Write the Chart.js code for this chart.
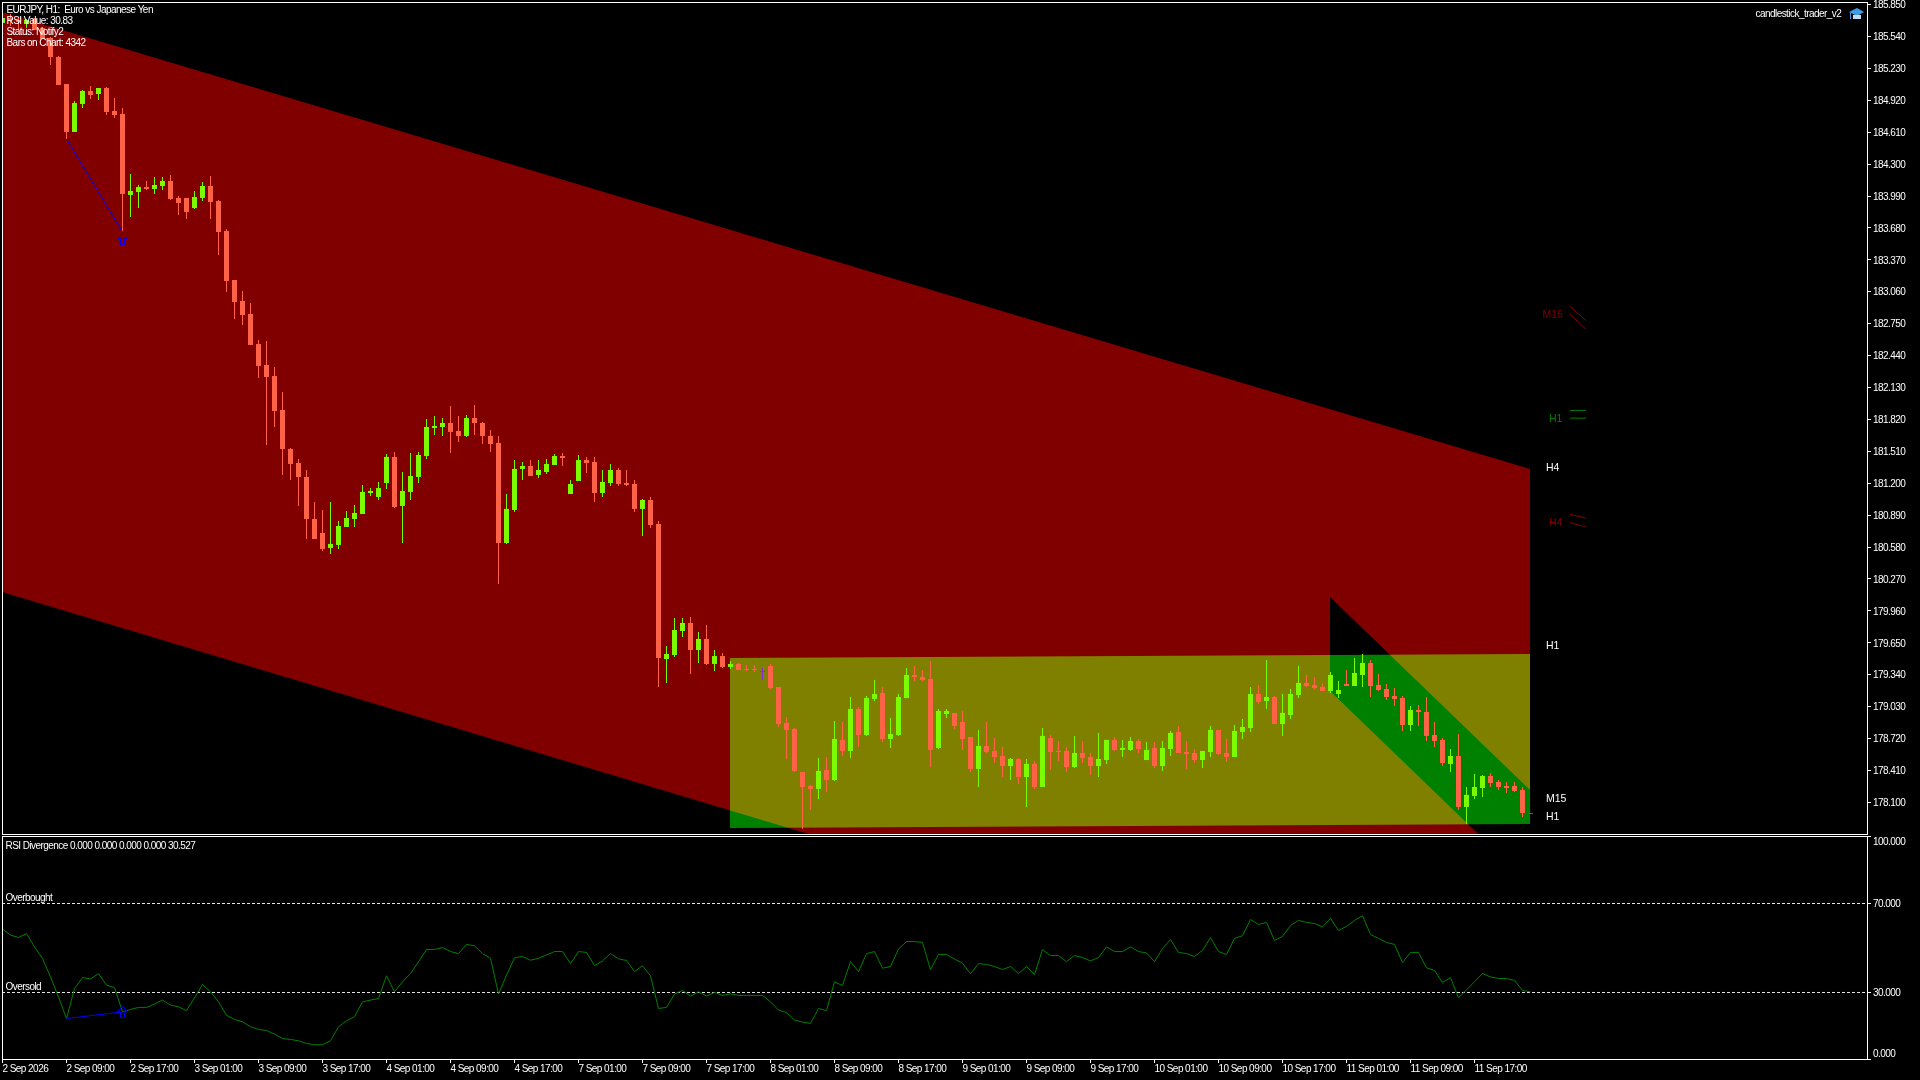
<!DOCTYPE html>
<html>
<head>
<meta charset="utf-8">
<title>EURJPY H1</title>
<script src="https://cdn.jsdelivr.net/npm/chart.js@4"></script>
<style>
    html, body { margin: 0; padding: 0; background: #000; overflow: hidden; }
    canvas { position: absolute; left: 0; display: block; }
    #priceChart { top: 0; }
    #rsiChart { top: 836px; }
</style>
</head>
<body>
<canvas id="priceChart" width="1920" height="836"></canvas>
<canvas id="rsiChart" width="1920" height="244"></canvas>
<script>
const opens = [
    185.671,185.719,185.700,185.661,185.709,185.622,185.525,185.340,185.078,184.612,
    184.884,185.010,184.981,185.039,184.816,184.787,184.000,184.029,184.077,184.058,
    184.087,184.136,183.971,183.971,183.873,183.971,184.087,183.941,183.650,183.174,
    182.970,182.844,182.552,182.348,182.241,181.911,181.532,181.396,181.260,180.852,
    180.716,180.571,180.600,180.775,180.852,180.901,181.105,181.066,181.202,181.455,
    180.979,181.115,181.260,181.464,181.736,181.746,181.785,181.707,181.659,181.833,
    181.785,181.659,181.591,180.619,180.940,181.338,181.367,181.280,181.309,181.377,
    181.464,181.095,181.221,181.425,181.406,181.105,181.202,181.328,181.202,181.192,
    180.950,181.037,180.804,179.492,179.531,179.764,179.842,179.580,179.687,179.444,
    179.521,179.415,179.444,179.395,179.395,179.376,179.424,179.220,178.871,178.813,
    178.395,178.259,178.230,178.414,178.317,178.706,178.599,179.007,178.754,179.104,
    179.162,178.715,178.754,179.113,179.337,179.318,179.298,178.628,178.958,178.968,
    178.881,178.735,178.424,178.647,178.599,178.550,178.453,178.521,178.346,178.473,
    178.249,178.725,178.599,178.599,178.443,178.579,178.540,178.453,178.511,178.706,
    178.609,178.609,178.696,178.511,178.628,178.453,178.618,178.783,178.589,178.579,
    178.511,178.589,178.803,178.579,178.540,178.783,178.822,179.152,179.084,179.123,
    178.861,178.948,179.143,179.259,179.240,179.220,179.181,179.152,179.250,179.230,
    179.337,179.453,179.240,179.201,179.133,179.113,178.851,178.997,178.978,178.754,
    178.706,178.473,178.550,178.055,178.162,178.239,178.356,178.298,178.259,178.259,178.220,177.996
];
const closes = [
    185.719,185.700,185.680,185.700,185.603,185.515,185.340,185.068,184.612,184.893,
    185.010,184.971,185.039,184.806,184.777,184.010,184.039,184.077,184.058,184.097,
    184.136,183.961,183.922,183.835,183.980,184.087,183.932,183.640,183.164,182.960,
    182.834,182.543,182.339,182.232,181.901,181.532,181.387,181.260,180.852,180.658,
    180.561,180.610,180.784,180.862,180.911,181.115,181.124,181.153,181.455,180.969,
    181.124,181.270,181.474,181.746,181.756,181.785,181.698,181.659,181.833,181.785,
    181.659,181.581,180.619,180.950,181.338,181.367,181.270,181.328,181.387,181.464,
    181.445,181.192,181.425,181.396,181.105,181.212,181.328,181.192,181.183,180.950,
    181.037,180.794,179.502,179.541,179.774,179.842,179.580,179.687,179.444,179.521,
    179.415,179.444,179.386,179.386,179.386,179.366,179.211,178.861,178.803,178.404,
    178.249,178.230,178.404,178.317,178.715,178.599,179.007,178.754,179.113,179.152,
    178.715,178.764,179.123,179.337,179.318,179.288,178.609,178.987,178.987,178.842,
    178.715,178.424,178.647,178.589,178.540,178.453,178.521,178.346,178.473,178.249,
    178.745,178.589,178.589,178.443,178.579,178.531,178.453,178.521,178.706,178.609,
    178.628,178.696,178.618,178.609,178.453,178.628,178.774,178.579,178.570,178.511,
    178.599,178.803,178.570,178.540,178.793,178.832,179.152,179.075,179.123,178.861,
    178.968,179.152,179.259,179.230,179.211,179.181,179.337,179.191,179.230,179.356,
    179.453,179.230,179.191,179.123,179.104,178.851,178.997,178.978,178.745,178.696,
    178.482,178.550,178.055,178.172,178.249,178.356,178.288,178.249,178.239,178.210,177.996,177.987
];
const highs = [
    185.739,185.758,185.729,185.709,185.719,185.632,185.535,185.350,185.078,184.913,
    185.020,185.059,185.039,185.049,184.942,184.845,184.204,184.097,184.136,184.175,
    184.175,184.194,183.990,183.971,184.039,184.126,184.184,183.951,183.670,183.174,
    183.067,182.951,182.591,182.581,182.329,182.086,181.542,181.435,181.328,181.018,
    180.940,181.018,180.833,180.930,180.988,181.183,181.153,181.212,181.484,181.503,
    181.309,181.493,181.503,181.824,181.853,181.833,181.950,181.853,181.863,181.960,
    181.795,181.717,181.659,181.095,181.425,181.406,181.425,181.425,181.435,181.484,
    181.493,181.231,181.474,181.455,181.455,181.328,181.387,181.348,181.328,181.231,
    181.047,181.066,180.833,179.619,179.891,179.891,179.900,179.755,179.823,179.580,
    179.551,179.473,179.453,179.434,179.434,179.405,179.444,179.220,178.929,178.822,
    178.395,178.268,178.531,178.540,178.890,178.881,179.123,179.026,179.133,179.288,
    179.220,178.919,179.152,179.405,179.424,179.386,179.473,179.007,179.007,178.968,
    178.987,178.735,178.803,178.881,178.725,178.638,178.531,178.531,178.521,178.502,
    178.822,178.754,178.696,178.638,178.745,178.696,178.579,178.774,178.706,178.735,
    178.706,178.735,178.715,178.686,178.686,178.696,178.793,178.842,178.696,178.618,
    178.599,178.842,178.803,178.715,178.851,178.910,179.220,179.240,179.483,179.133,
    179.152,179.201,179.424,179.337,179.318,179.259,179.366,179.279,179.386,179.502,
    179.541,179.483,179.347,179.250,179.211,179.133,179.036,179.046,179.123,178.881,
    178.725,178.618,178.764,178.249,178.375,178.366,178.385,178.317,178.298,178.298,178.249,177.996
];
const lows = [
    185.651,185.641,185.603,185.622,185.603,185.515,185.263,185.068,184.544,184.612,
    184.845,184.932,184.923,184.777,184.748,183.640,183.786,183.873,184.048,184.010,
    184.048,183.951,183.805,183.767,183.864,183.941,183.767,183.417,183.057,182.795,
    182.737,182.543,182.222,181.571,181.746,181.280,181.231,180.979,180.658,180.658,
    180.541,180.512,180.561,180.775,180.775,180.901,181.076,181.037,181.144,180.959,
    180.619,181.037,181.202,181.435,181.668,181.659,181.493,181.600,181.649,181.668,
    181.581,181.503,180.221,180.610,180.920,181.231,181.270,181.251,181.290,181.377,
    181.367,181.095,181.221,181.299,181.018,181.066,181.173,181.173,181.173,180.920,
    180.687,180.765,179.220,179.259,179.512,179.706,179.347,179.453,179.434,179.376,
    179.405,179.395,179.386,179.376,179.366,179.288,179.201,178.832,178.521,178.395,
    177.841,178.026,178.132,178.200,178.307,178.550,178.531,178.638,178.745,179.084,
    178.686,178.628,178.745,179.113,179.279,179.279,178.443,178.618,178.919,178.813,
    178.609,178.395,178.249,178.579,178.482,178.346,178.317,178.278,178.055,178.230,
    178.249,178.414,178.502,178.395,178.433,178.482,178.366,178.346,178.473,178.599,
    178.540,178.599,178.579,178.511,178.433,178.404,178.550,178.579,178.424,178.482,
    178.433,178.540,178.560,178.492,178.540,178.715,178.783,179.055,179.007,178.861,
    178.745,178.910,179.113,179.220,179.201,179.181,179.162,179.113,179.230,179.230,
    179.220,179.123,179.181,179.094,179.036,178.793,178.793,178.842,178.696,178.638,
    178.453,178.395,178.026,177.890,178.132,178.152,178.249,178.220,178.191,178.200,177.957,177.987
];
const rsiValues = [
    58.5,55.8,54.7,56.5,50.5,45.3,37,28,18.3,31.8,
    36.7,36.1,38.5,33.3,32.2,21.3,22.4,23.3,23.3,24.8,
    26.6,24.3,23.6,21.8,27.6,33.6,30.3,25.8,19.8,17.9,
    16.8,14.6,13.4,12.9,11.3,9.3,8.9,8.3,7.1,6.5,
    6.5,8.3,14.6,17.3,19.1,25.8,26.6,27.3,37.5,30.3,
    34.8,38.5,43.8,49.3,49.3,50.2,48.4,47.5,51.6,51,
    47.5,45.4,29.3,37.8,45.6,46.2,44.5,45.4,46.9,48.4,
    48.4,43,48.4,48,42.1,44.2,47.5,45.1,44.4,39.4,
    42,37.5,22.8,23.3,29.3,30.9,28.4,30.3,28.4,30,
    28.7,29.4,28.7,28.7,28.7,28.7,25.8,22.1,21,17.6,
    16.7,16.1,22.8,21.9,34.8,33.1,43.9,39.4,47.5,48.4,
    40.9,41.7,49.5,52.9,52.9,52.5,40.2,47.1,47.1,45,
    43.2,38.4,43,42.6,41.7,40.3,41.7,38.5,41.7,38.1,
    49.3,46.6,46.6,43.9,46.6,45.7,44.2,45.7,50.5,48.4,
    48.4,50.5,48.4,47.8,43.9,49.8,53.8,48,47.5,46.2,
    48.9,54.7,48.4,47.1,54.3,55.5,62.8,60.6,61.5,53.4,
    55.2,60.1,62.4,61.5,61,59.5,63.3,57.9,59.7,62.4,
    64.5,56.1,54.3,52.5,51.6,43.5,48,48,41.1,39.9,
    34.5,36.7,27.6,31.2,34.8,38.5,37,36.3,36.3,35.4,30.9,30.3
];

const dojiBars = [95, 191];

const priceTicks = [
    185.85,185.54,185.23,184.92,184.61,184.30,183.99,183.68,183.37,
    183.06,182.75,182.44,182.13,181.82,181.51,181.20,180.89,180.58,
    180.27,179.96,179.65,179.34,179.03,178.72,178.41,178.10
];
const rsiTicks = [100, 70, 30, 0];
const rsiTickLabels = ['100.000', '70.000', '30.000', '0.000'];
const rsiLevels = [70, 30];
const timeTickBars = [0,8,16,24,32,40,48,56,64,72,80,88,96,104,112,120,128,136,144,152,160,168,176,184];
const timeTickLabels = [
    '2 Sep 2026','2 Sep 09:00','2 Sep 17:00','3 Sep 01:00','3 Sep 09:00','3 Sep 17:00',
    '4 Sep 01:00','4 Sep 09:00','4 Sep 17:00','7 Sep 01:00','7 Sep 09:00','7 Sep 17:00',
    '8 Sep 01:00','8 Sep 09:00','8 Sep 17:00','9 Sep 01:00','9 Sep 09:00','9 Sep 17:00',
    '10 Sep 01:00','10 Sep 09:00','10 Sep 17:00','11 Sep 01:00','11 Sep 09:00','11 Sep 17:00'
];

// Channels and the range box, corner by corner: bar number and price
const bigChannelBars = [-1, 190.94, 190.94, -1];
const bigChannelPrices = [185.799, 181.338, 175.69, 180.165];
const rangeBoxBars = [90.94, 190.94, 190.94, 90.94];
const rangeBoxPrices = [179.502, 179.541, 177.890, 177.851];
const smallChannelBars = [165.94, 190.94, 190.94, 165.94];
const smallChannelPrices = [180.095, 178.220, 177.307, 179.182];

// Divergence marks
const divergenceBars = [8, 15];
const divergencePrices = [184.544, 183.640];
const divergenceRsi = [18.3, 21.3];
const arrowBar = 15;
const arrowPrice = 183.572;
const arrowRsi = 21.2;

// Little trend dashes to the right of the chart
const dashBars = [195.94, 197.94];
const m15Dashes = [[182.918, 182.779], [182.841, 182.695]];
const h1Dashes = [[181.907, 181.907], [181.832, 181.832]];
const h4Dashes = [[180.898, 180.860], [180.818, 180.774]];

const BULL = '#7cfc00';
const BEAR = '#ff6347';
const DOJI = '#8a2be2';
const MAROON = '#800000';
const GREEN = '#008000';
const BLUE = '#0000ff';

const REGULAR = '"Liberation Sans", sans-serif';
const TIGHT = '-0.55px'; // squeezes the text to the width of the terminal font

const xMin = -0.0625;
const xMax = 233.0625;

const candleColors = opens.map((o, i) => {
    if (dojiBars.includes(i)) return DOJI;
    return closes[i] >= o ? BULL : BEAR;
});

// hollow up arrow used on both panels
function makeArrow() {
    const c = document.createElement('canvas');
    c.width = 11;
    c.height = 12;
    const g = c.getContext('2d');
    g.strokeStyle = BLUE;
    g.lineWidth = 1;
    g.beginPath();
    g.moveTo(5.5, 0.5);
    g.lineTo(10.5, 5.5);
    g.lineTo(7.5, 5.5);
    g.lineTo(7.5, 11.5);
    g.lineTo(3.5, 11.5);
    g.lineTo(3.5, 5.5);
    g.lineTo(0.5, 5.5);
    g.closePath();
    g.stroke();
    return c;
}
const arrowSprite = makeArrow();

function drawText(ctx, text, x, y, color, font, spacing) {
    ctx.fillStyle = color;
    ctx.font = font;
    ctx.letterSpacing = spacing;
    ctx.textAlign = 'left';
    ctx.textBaseline = 'middle';
    ctx.fillText(text, x, y);
}

function fillZone(chart, bars, prices, color) {
    const ctx = chart.ctx;
    const xs = chart.scales.x;
    const ys = chart.scales.y;
    ctx.beginPath();
    bars.forEach((b, i) => {
        const px = xs.getPixelForValue(b);
        const py = ys.getPixelForValue(prices[i]);
        if (i === 0) ctx.moveTo(px, py);
        else ctx.lineTo(px, py);
    });
    ctx.closePath();
    ctx.fillStyle = color;
    ctx.fill();
}

const blackBackground = {
    id: 'blackBackground',
    beforeDraw(chart) {
        chart.ctx.save();
        chart.ctx.fillStyle = '#000';
        chart.ctx.fillRect(0, 0, chart.width, chart.height);
        chart.ctx.restore();
        chart.ctx.letterSpacing = TIGHT; // axis labels pick this up
    }
};

// The terminal XORs its filled objects, 'difference' gives the same colours here
const zones = {
    id: 'zones',
    beforeDatasetsDraw(chart) {
        const ctx = chart.ctx;
        const a = chart.chartArea;
        ctx.save();
        ctx.beginPath();
        ctx.rect(a.left, a.top, a.right - a.left, a.bottom - a.top);
        ctx.clip();
        ctx.globalCompositeOperation = 'difference';
        fillZone(chart, bigChannelBars, bigChannelPrices, MAROON);
        fillZone(chart, rangeBoxBars, rangeBoxPrices, GREEN);
        fillZone(chart, smallChannelBars, smallChannelPrices, MAROON);
        ctx.restore();
    }
};

const frame = {
    id: 'frame',
    afterDraw(chart) {
        const ctx = chart.ctx;
        const a = chart.chartArea;
        ctx.save();
        ctx.strokeStyle = '#fff';
        ctx.lineWidth = 1;
        ctx.strokeRect(a.left + 0.5, a.top + 0.5, a.right - a.left, a.bottom - a.top);
        ctx.restore();
    }
};

const priceTexts = {
    id: 'priceTexts',
    afterDraw(chart) {
        const ctx = chart.ctx;
        const small = '10px ' + REGULAR;
        const tag = '10.5px ' + REGULAR;
        ctx.save();
        drawText(ctx, 'EURJPY, H1:  Euro vs Japanese Yen', 6.5, 10, '#fff', small, TIGHT);
        drawText(ctx, 'RSI Value: 30.83', 6.5, 21, '#fff', small, TIGHT);
        drawText(ctx, 'Status: Notify2', 6.5, 32, '#fff', small, TIGHT);
        drawText(ctx, 'Bars on Chart: 4342', 6.5, 43, '#fff', small, TIGHT);
        drawText(ctx, 'candlestick_trader_v2', 1755.5, 14, '#fff', small, TIGHT);
        drawText(ctx, 'M15', 1542.5, 315, MAROON, tag, '0px');
        drawText(ctx, 'H1', 1549, 419, GREEN, tag, '0px');
        drawText(ctx, 'H4', 1546, 468, '#fff', tag, '0px');
        drawText(ctx, 'H4', 1549, 523, MAROON, tag, '0px');
        drawText(ctx, 'H1', 1546, 646, '#fff', tag, '0px');
        drawText(ctx, 'M15', 1546, 799, '#fff', tag, '0px');
        drawText(ctx, 'H1', 1546, 817, '#fff', tag, '0px');
        // graduation cap of the expert advisor
        ctx.fillStyle = '#3f9be8';
        ctx.beginPath();
        ctx.moveTo(1849, 12);
        ctx.lineTo(1857, 8);
        ctx.lineTo(1864, 12);
        ctx.lineTo(1857, 16);
        ctx.closePath();
        ctx.fill();
        ctx.fillStyle = '#bcdcf5';
        ctx.fillRect(1853, 15, 8, 4);
        ctx.fillStyle = '#3f9be8';
        ctx.fillRect(1850, 13, 1, 6);
        ctx.restore();
    }
};

const rsiTexts = {
    id: 'rsiTexts',
    afterDraw(chart) {
        const ctx = chart.ctx;
        const ys = chart.scales.y;
        const small = '10px ' + REGULAR;
        ctx.save();
        drawText(ctx, 'RSI Divergence 0.000 0.000 0.000 0.000 30.527', 5.5, 10, '#fff', small, TIGHT);
        drawText(ctx, 'Overbought', 5.5, 62, '#fff', small, TIGHT);
        drawText(ctx, 'Oversold', 5.5, 151, '#fff', small, TIGHT);
        // the end labels stay inside the panel, as the terminal draws them
        const nudge = [5, 1, 1, -5];
        rsiTicks.forEach((v, i) => {
            drawText(ctx, rsiTickLabels[i], 1873, ys.getPixelForValue(v) + nudge[i], '#fff', small, TIGHT);
        });
        ctx.restore();
    }
};

function dashDatasets(dashes, color) {
    return dashes.map(pair => ({
        type: 'line',
        data: dashBars.map((b, i) => ({ x: b, y: pair[i] })),
        borderColor: color,
        borderWidth: 1,
        pointRadius: 0,
        order: 0
    }));
}

const axisFont = { family: REGULAR, size: 10 };

new Chart(document.getElementById('priceChart'), {
    type: 'bar',
    data: {
        datasets: [
            {
                data: opens.map((o, i) => ({ x: i, y: [lows[i], highs[i]] })),
                backgroundColor: candleColors,
                grouped: false,
                maxBarThickness: 1,
                order: 3
            },
            {
                data: opens.map((o, i) => ({ x: i, y: [o, closes[i]] })),
                backgroundColor: candleColors,
                grouped: false,
                maxBarThickness: 5,
                order: 2
            },
            {
                type: 'line',
                data: divergenceBars.map((b, i) => ({ x: b, y: divergencePrices[i] })),
                borderColor: BLUE,
                borderWidth: 1,
                pointRadius: 0,
                order: 1
            },
            {
                type: 'scatter',
                data: [{ x: arrowBar, y: arrowPrice }],
                pointStyle: arrowSprite,
                pointRadius: 6,
                order: 1
            },
            ...dashDatasets(m15Dashes, MAROON),
            ...dashDatasets(h1Dashes, GREEN),
            ...dashDatasets(h4Dashes, MAROON)
        ]
    },
    options: {
        responsive: false,
        animation: false,
        events: [],
        layout: { autoPadding: false, padding: { left: 2, top: 2, right: 0, bottom: 2 } },
        plugins: { legend: { display: false }, tooltip: { enabled: false } },
        scales: {
            x: { type: 'linear', display: false, offset: false, min: xMin, max: xMax },
            y: {
                type: 'linear',
                position: 'right',
                min: 177.7922,
                max: 185.8746,
                grid: { drawOnChartArea: false, color: '#fff', tickLength: 4 },
                border: { display: false },
                ticks: {
                    color: '#fff',
                    // empty first line with a 2px line height moves the label 1px down
                    font: { family: REGULAR, size: 10, lineHeight: '2px' },
                    padding: 2,
                    autoSkip: false,
                    callback: v => ['', v.toFixed(3)]
                },
                afterBuildTicks(scale) {
                    scale.ticks = priceTicks.map(v => ({ value: v }));
                },
                afterFit(scale) {
                    scale.width = 53;
                    scale.paddingTop = 0;
                    scale.paddingBottom = 0;
                }
            }
        }
    },
    plugins: [blackBackground, zones, frame, priceTexts]
});

new Chart(document.getElementById('rsiChart'), {
    type: 'line',
    data: {
        datasets: [
            ...rsiLevels.map(level => ({
                data: [{ x: xMin, y: level }, { x: xMax, y: level }],
                borderColor: '#e6e6e6',
                borderWidth: 1,
                borderDash: [3, 2],
                pointRadius: 0,
                order: 3
            })),
            {
                data: rsiValues.map((v, i) => ({ x: i, y: v })),
                borderColor: GREEN,
                borderWidth: 1,
                pointRadius: 0,
                tension: 0,
                order: 2
            },
            {
                data: divergenceBars.map((b, i) => ({ x: b, y: divergenceRsi[i] })),
                borderColor: BLUE,
                borderWidth: 1,
                pointRadius: 0,
                order: 1
            },
            {
                type: 'scatter',
                data: [{ x: arrowBar, y: arrowRsi }],
                pointStyle: arrowSprite,
                pointRadius: 6,
                order: 1
            }
        ]
    },
    options: {
        responsive: false,
        animation: false,
        events: [],
        layout: { autoPadding: false, padding: { left: 2, top: 0, right: 0, bottom: 0 } },
        plugins: { legend: { display: false }, tooltip: { enabled: false } },
        scales: {
            x: {
                type: 'linear',
                position: 'bottom',
                min: xMin,
                max: xMax,
                offset: false,
                grid: { drawOnChartArea: false, color: '#fff', tickLength: 4 },
                border: { display: false },
                ticks: {
                    color: '#fff',
                    font: axisFont,
                    padding: 0,
                    align: 'start',
                    autoSkip: false,
                    maxRotation: 0,
                    callback: (v, i) => timeTickLabels[i]
                },
                afterBuildTicks(scale) {
                    scale.ticks = timeTickBars.map(v => ({ value: v }));
                },
                afterFit(scale) {
                    scale.height = 21;
                    scale.paddingLeft = 0;
                    scale.paddingRight = 0;
                }
            },
            y: {
                type: 'linear',
                position: 'right',
                min: 0.11,
                max: 100.34,
                grid: { drawOnChartArea: false, color: '#fff', tickLength: 4 },
                border: { display: false },
                ticks: { display: false, autoSkip: false },
                afterBuildTicks(scale) {
                    scale.ticks = rsiTicks.map(v => ({ value: v }));
                },
                afterFit(scale) {
                    scale.width = 53;
                    scale.paddingTop = 0;
                    scale.paddingBottom = 0;
                }
            }
        }
    },
    plugins: [blackBackground, frame, rsiTexts]
});
</script>
</body>
</html>
